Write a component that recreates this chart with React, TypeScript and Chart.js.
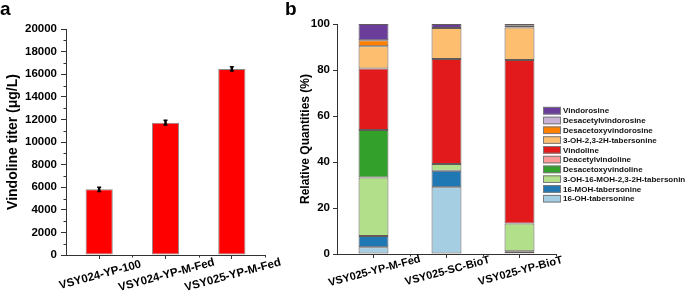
import React, { useEffect, useRef } from 'react';
import { Chart, registerables } from 'chart.js';

Chart.register(...registerables);

// ---------- Data: panel a ----------
const strainsA = ['VSY024-YP-100', 'VSY024-YP-M-Fed', 'VSY025-YP-M-Fed'];
const titerA = [5810, 11710, 16470];
const titerErrA = [190, 210, 190];
const yTicksA = [0, 2000, 4000, 6000, 8000, 10000, 12000, 14000, 16000, 18000, 20000];

// ---------- Data: panel b ----------
const strainsB = ['VSY025-YP-M-Fed', 'VSY025-SC-BioT', 'VSY025-YP-BioT'];
const compounds = [
  '16-OH-tabersonine',
  '16-MOH-tabersonine',
  '3-OH-16-MOH-2,3-2H-tabersonine',
  'Desacetoxyvindoline',
  'Deacetylvindoline',
  'Vindoline',
  '3-OH-2,3-2H-tabersonine',
  'Desacetoxyvindorosine',
  'Desacetylvindorosine',
  'Vindorosine',
];
const compoundColors = [
  '#a6cee3', '#1f78b4', '#b2df8a', '#33a02c', '#fb9a99',
  '#e31a1c', '#fdbf6f', '#ff7f00', '#cab2d6', '#6a3d9a',
];
const oh16Tab = [2.9, 29.0, 0.3];
const moh16Tab = [4.9, 7.2, 0.9];
const ohMohTab = [25.5, 2.9, 12.1];
const desacetoxyvindoline = [20.6, 0, 0];
const deacetylvindoline = [0, 0, 0];
const vindoline = [26.8, 45.7, 71.0];
const oh23Tab = [9.6, 13.5, 14.2];
const desacetoxyvindorosine = [2.6, 0, 0.7];
const desacetylvindorosine = [0, 0, 0];
const vindorosine = [7.1, 1.7, 0.8];
const seriesB = [
  oh16Tab, moh16Tab, ohMohTab, desacetoxyvindoline, deacetylvindoline,
  vindoline, oh23Tab, desacetoxyvindorosine, desacetylvindorosine, vindorosine,
];

// ---------- Styles ----------
const FONT = '"Liberation Sans", Arial, Helvetica, sans-serif';
const AXIS = '#333333';
Chart.defaults.font.family = FONT;

function letterPlugin(letter: string, x: number) {
  return {
    id: 'letter' + letter,
    afterDraw(chart: any) {
      const ctx = chart.ctx;
      ctx.save();
      ctx.fillStyle = '#000';
      ctx.font = `bold 19px ${FONT}`;
      ctx.textAlign = 'left';
      ctx.textBaseline = 'alphabetic';
      ctx.fillText(letter, x, 15);
      ctx.restore();
    },
  };
}

function xLabelPlugin(dx: number, dy: number, size: number) {
  return {
    id: 'xlabels',
    afterDraw(chart: any) {
      const ctx = chart.ctx;
      const xs = chart.scales.x;
      const labels = chart.data.labels as string[];
      ctx.save();
      ctx.fillStyle = '#000';
      ctx.font = `bold ${size}px ${FONT}`;
      ctx.textAlign = 'center';
      ctx.textBaseline = 'middle';
      labels.forEach((lab, i) => {
        const x = xs.getPixelForValue(i);
        ctx.save();
        ctx.translate(x + dx, chart.chartArea.bottom + dy);
        ctx.rotate((-15 * Math.PI) / 180);
        ctx.fillText(lab, 0, 0);
        ctx.restore();
      });
      ctx.restore();
    },
  };
}

function minorTickPlugin(yMinorStep: number | null) {
  return {
    id: 'minorticks',
    afterDraw(chart: any) {
      const ctx = chart.ctx;
      const xs = chart.scales.x;
      const ys = chart.scales.y;
      const area = chart.chartArea;
      ctx.save();
      ctx.strokeStyle = AXIS;
      ctx.lineWidth = 1;
      ctx.beginPath();
      const n = chart.data.labels.length;
      for (let i = 0; i < n; i++) {
        const x = Math.round(xs.getPixelForValue(i + 0.5)) + 0.5;
        ctx.moveTo(x, area.bottom);
        ctx.lineTo(x, area.bottom + 2.5);
      }
      if (yMinorStep) {
        for (let v = yMinorStep; v < ys.max; v += yMinorStep * 2) {
          const y = Math.round(ys.getPixelForValue(v)) + 0.5;
          ctx.moveTo(area.left, y);
          ctx.lineTo(area.left - 2.5, y);
        }
      }
      ctx.stroke();
      ctx.restore();
    },
  };
}

const errorBarPlugin = {
  id: 'errorbars',
  afterDatasetsDraw(chart: any) {
    const ctx = chart.ctx;
    const ys = chart.scales.y;
    const meta = chart.getDatasetMeta(0);
    ctx.save();
    ctx.strokeStyle = '#000';
    meta.data.forEach((bar: any, i: number) => {
      const v = titerA[i];
      const e = titerErrA[i];
      const yTop = ys.getPixelForValue(v + e);
      const yBot = ys.getPixelForValue(v - e);
      ctx.lineWidth = 2.5;
      ctx.beginPath();
      ctx.moveTo(bar.x, yTop);
      ctx.lineTo(bar.x, yBot);
      ctx.stroke();
      ctx.lineWidth = 1.5;
      ctx.beginPath();
      ctx.moveTo(bar.x - 2, yTop);
      ctx.lineTo(bar.x + 2, yTop);
      ctx.moveTo(bar.x - 2, yBot);
      ctx.lineTo(bar.x + 2, yBot);
      ctx.stroke();
    });
    ctx.restore();
  },
};

const legendPlugin = {
  id: 'customLegend',
  afterDraw(chart: any) {
    const ctx = chart.ctx;
    const ds = chart.data.datasets;
    ctx.save();
    ctx.font = `bold 8px ${FONT}`;
    ctx.textAlign = 'left';
    ctx.textBaseline = 'middle';
    for (let k = 0; k < ds.length; k++) {
      const d = ds[ds.length - 1 - k];
      const cy = 110.7 + k * 9.78;
      ctx.fillStyle = d.backgroundColor;
      ctx.fillRect(268, cy - 3.8, 18, 7.6);
      ctx.strokeStyle = '#7a7a7a';
      ctx.lineWidth = 1;
      ctx.strokeRect(268.5, cy - 3.3, 17, 6.6);
      ctx.fillStyle = '#111';
      ctx.fillText(d.label, 288, cy + 0.5);
    }
    ctx.restore();
  },
};

export default function App() {
  const refA = useRef<HTMLCanvasElement>(null);
  const refB = useRef<HTMLCanvasElement>(null);

  useEffect(() => {
    const tickFont = { family: FONT, size: 11.5, weight: 'bold' as const };
    const plain = (v: any) => String(v);

    const chartA = new Chart(refA.current as HTMLCanvasElement, {
      type: 'bar',
      data: {
        labels: strainsA,
        datasets: [
          {
            label: 'Vindoline titer',
            data: titerA,
            backgroundColor: '#ff0000',
            borderColor: '#8a8a8a',
            borderWidth: 1,
            borderSkipped: false,
            barPercentage: 0.41,
            categoryPercentage: 1,
          },
        ],
      },
      options: {
        animation: false,
        responsive: false,
        devicePixelRatio: 1,
        layout: { padding: { top: 29, right: 35, left: 0, bottom: 0 } },
        plugins: { legend: { display: false }, tooltip: { enabled: false } },
        scales: {
          x: {
            ticks: { display: false },
            grid: { display: true, drawOnChartArea: false, offset: false, tickLength: 4, tickColor: AXIS, tickWidth: 1 },
            border: { display: true, color: AXIS, width: 1 },
            afterFit: (s: any) => { s.height = 36; },
          },
          y: {
            min: 0,
            max: 20000,
            afterBuildTicks: (s: any) => { s.ticks = yTicksA.map((v) => ({ value: v })); },
            ticks: { font: tickFont, color: '#000', padding: 4, callback: plain },
            grid: { display: true, drawOnChartArea: false, tickLength: 5, tickColor: AXIS, tickWidth: 1 },
            border: { display: true, color: AXIS, width: 1 },
            title: {
              display: true,
              text: 'Vindoline titer (μg/L)',
              font: { family: FONT, size: 14, weight: 'bold' },
              color: '#000',
              padding: { top: 5, bottom: 0 },
            },
            afterFit: (s: any) => { s.width = 66; },
          },
        },
      },
      plugins: [letterPlugin('a', 0), xLabelPlugin(1, 20, 11.5), minorTickPlugin(1000), errorBarPlugin],
    } as any);

    const chartB = new Chart(refB.current as HTMLCanvasElement, {
      type: 'bar',
      data: {
        labels: strainsB,
        datasets: compounds.map((name, i) => ({
          label: name,
          data: seriesB[i],
          backgroundColor: compoundColors[i],
          borderColor: 'rgba(70,60,60,0.85)',
          borderWidth: (c: any) => (c.raw ? 1 : 0),
          borderSkipped: false,
          barPercentage: 0.41,
          categoryPercentage: 1,
        })),
      },
      options: {
        animation: false,
        responsive: false,
        devicePixelRatio: 1,
        layout: { padding: { top: 24, right: 129, left: 0, bottom: 0 } },
        plugins: { legend: { display: false }, tooltip: { enabled: false } },
        scales: {
          x: {
            stacked: true,
            ticks: { display: false },
            grid: { display: true, drawOnChartArea: false, offset: false, tickLength: 4, tickColor: AXIS, tickWidth: 1 },
            border: { display: true, color: AXIS, width: 1 },
            afterFit: (s: any) => { s.height = 37; },
          },
          y: {
            stacked: true,
            min: 0,
            max: 100,
            ticks: { stepSize: 20, font: tickFont, color: '#000', padding: 3, callback: plain },
            grid: { display: true, drawOnChartArea: false, tickLength: 4, tickColor: AXIS, tickWidth: 1 },
            border: { display: true, color: AXIS, width: 1 },
            title: {
              display: true,
              text: 'Relative Quantities (%)',
              font: { family: FONT, size: 12, weight: 'bold' },
              color: '#000',
              padding: { top: 23, bottom: 0 },
            },
            afterFit: (s: any) => { s.width = 62; },
          },
        },
      },
      plugins: [letterPlugin('b', 10), xLabelPlugin(1, 17, 11), minorTickPlugin(null), legendPlugin],
    } as any);

    return () => {
      chartA.destroy();
      chartB.destroy();
    };
  }, []);

  return (
    <div style={{ position: 'fixed', left: 0, top: 0, width: 685, height: 291, background: '#fff', overflow: 'hidden' }}>
      <canvas
        ref={refA}
        width={300}
        height={291}
        style={{ position: 'absolute', left: 0, top: 0, width: 300, height: 291 }}
      />
      <canvas
        ref={refB}
        width={410}
        height={291}
        style={{ position: 'absolute', left: 275, top: 0, width: 410, height: 291 }}
      />
    </div>
  );
}
